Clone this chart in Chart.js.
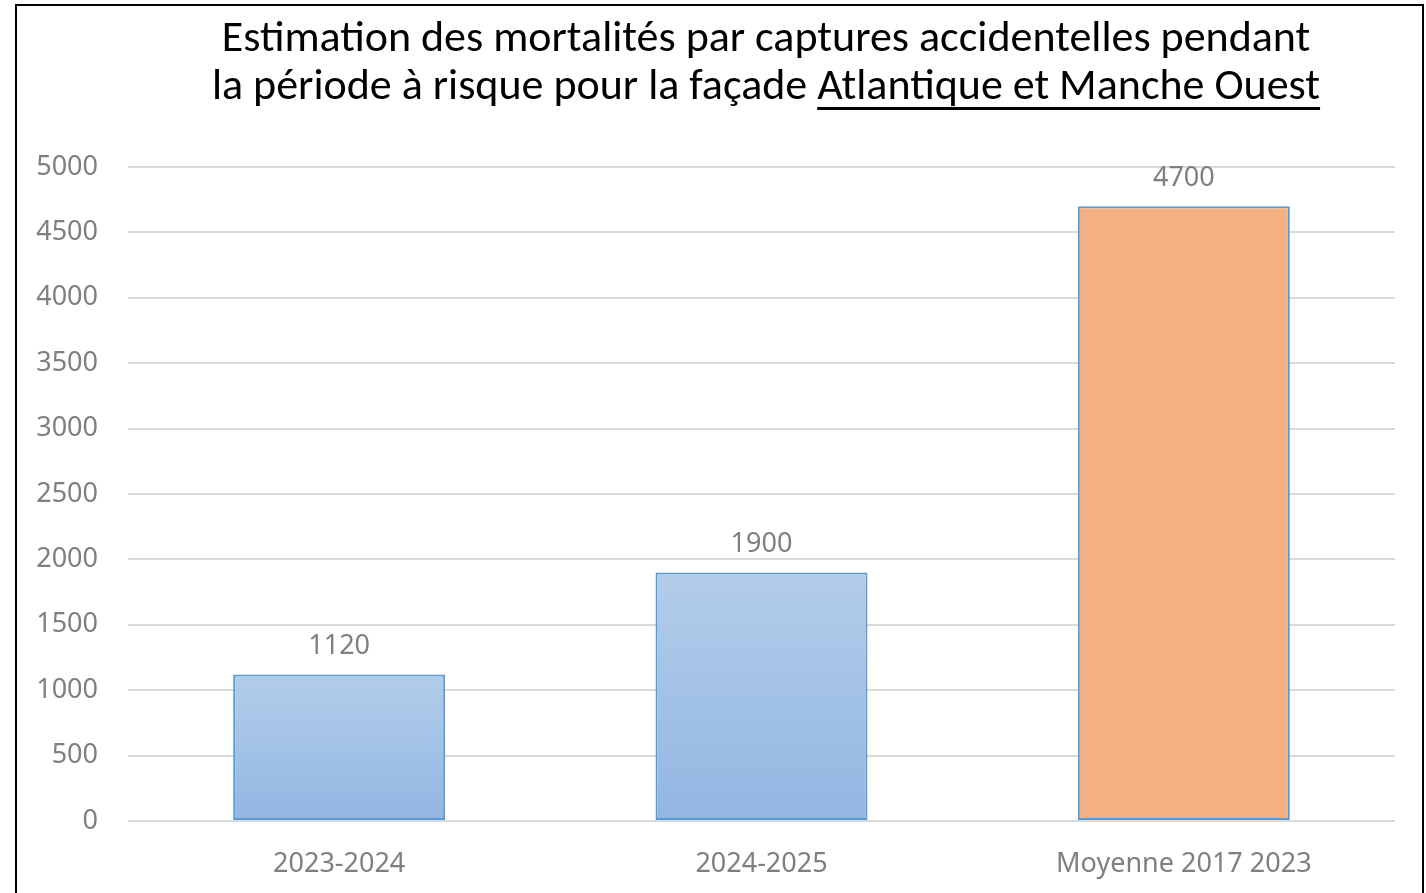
<!DOCTYPE html>
<html>
<head>
<meta charset="utf-8">
<script src="https://cdn.jsdelivr.net/npm/chart.js@4"></script>
<style>
  html, body { margin:0; padding:0; background:#fff; overflow:hidden; }
  #wrap { position:relative; width:1426px; height:893px; }
  #frame { position:absolute; left:15px; top:4px; width:1409px; height:900px; border:2px solid #000; box-sizing:border-box; pointer-events:none; }
  #title { position:absolute; left:166px; width:1200px; top:12px; text-align:center; font-family: Carlito, 'Liberation Sans Narrow', 'Noto Sans', sans-serif; font-size:44px; line-height:48px; color:#000; white-space:nowrap; }
  #title u { text-decoration-thickness:2.5px; text-underline-offset:8px; }
  canvas { position:absolute; left:0; top:0; }
</style>
</head>
<body>
<div id="wrap">
  <canvas id="c" width="1426" height="893"></canvas>
  <div id="title">Estimation des mortalités par captures accidentelles pendant<br>la période à risque pour la façade <u>Atlantique et Manche Ouest</u></div>
  <div id="frame"></div>
</div>
<script>
const categories = ['2023-2024', '2024-2025', 'Moyenne 2017 2023'];
const mortalities = [1120, 1900, 4700];
const yTicks = [0, 500, 1000, 1500, 2000, 2500, 3000, 3500, 4000, 4500, 5000];

const FONT = "'Noto Sans', 'Open Sans', sans-serif";
const GREY = '#7f7f7f';

function barFill(ctx) {
  const chart = ctx.chart;
  if (ctx.dataIndex === 2) return '#f4b183';
  if (!chart.chartArea || !chart.scales.y) return '#a3c2e6';
  const y = chart.scales.y;
  const top = y.getPixelForValue(ctx.raw);
  const bot = y.getPixelForValue(0);
  const g = chart.ctx.createLinearGradient(0, top, 0, bot);
  g.addColorStop(0, '#b2cdea');
  g.addColorStop(1, '#92b6e2');
  return g;
}

const valueLabels = {
  id: 'valueLabels',
  afterDatasetsDraw(chart) {
    const ctx = chart.ctx;
    const meta = chart.getDatasetMeta(0);
    ctx.save();
    ctx.font = '27px ' + FONT;
    ctx.fillStyle = GREY;
    ctx.textAlign = 'center';
    ctx.textBaseline = 'middle';
    meta.data.forEach((bar, i) => {
      ctx.fillText(String(chart.data.datasets[0].data[i]), bar.x, bar.y - 28);
    });
    ctx.restore();
  }
};

new Chart(document.getElementById('c'), {
  type: 'bar',
  data: {
    labels: categories,
    datasets: [{
      data: mortalities,
      backgroundColor: barFill,
      borderColor: '#5b9bd5',
      borderWidth: 2,
      borderSkipped: false,
      barPercentage: 0.502,
      categoryPercentage: 1
    }]
  },
  options: {
    responsive: false,
    animation: false,
    layout: { padding: { left: 0, right: 31, top: 167, bottom: 0 } },
    plugins: { legend: { display: false }, tooltip: { enabled: false }, title: { display: false } },
    scales: {
      x: {
        grid: { display: false, drawTicks: false },
        border: { display: false },
        ticks: { color: GREY, font: { family: FONT, size: 27 }, padding: 27, maxRotation: 0 },
        afterFit(s) { s.height = 72; }
      },
      y: {
        min: 0, max: 5000,
        afterBuildTicks(s) { s.ticks = yTicks.map(v => ({ value: v })); },
        grid: { color: '#d9d9d9', lineWidth: 2, drawTicks: false },
        border: { display: false },
        ticks: { color: GREY, font: { family: FONT, size: 27 }, padding: 30, callback: v => String(v) },
        afterFit(s) { s.width = 128; }
      }
    }
  },
  plugins: [valueLabels]
});
</script>
</body>
</html>
